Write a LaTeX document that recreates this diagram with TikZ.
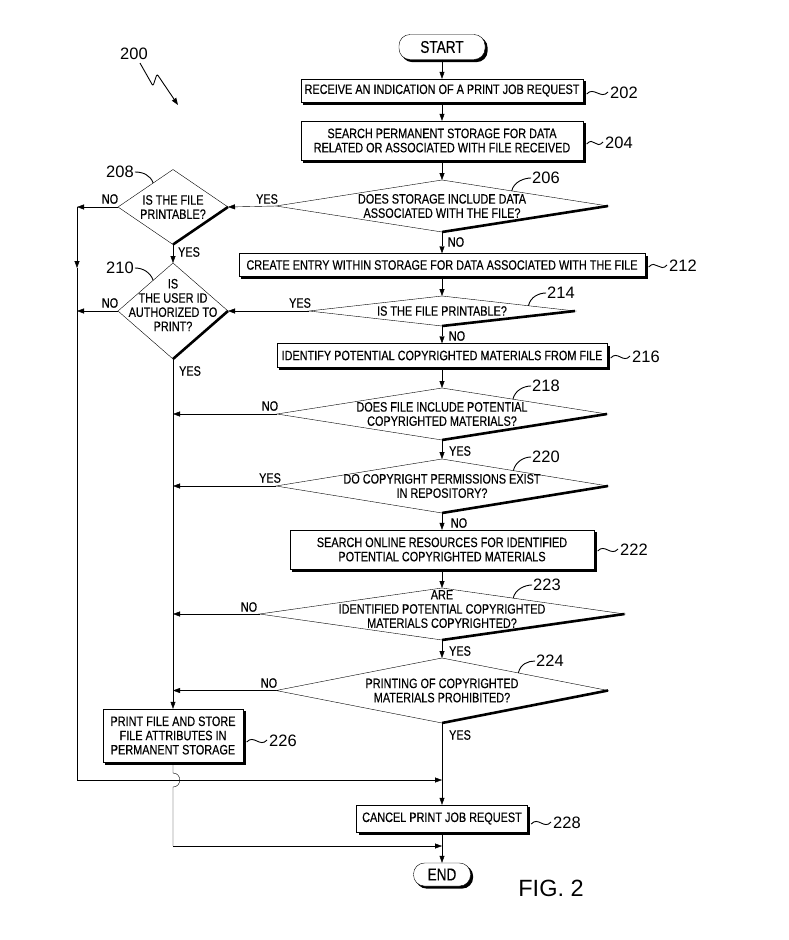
\documentclass[tikz,border=0pt]{standalone}
\usepackage{fontspec}
\usetikzlibrary{shapes.geometric,arrows.meta,calc}
\newfontfamily\bxfont[FakeStretch=0.8,FakeBold=0.3]{Liberation Sans}
\newfontfamily\lbfont{Liberation Sans}
\newcommand\bxtext{\bxfont\fontsize{13.6}{14.2}\selectfont}
\newcommand\tmtext{\bxfont\fontsize{17}{18}\selectfont}
\newcommand\lbtext{\lbfont\fontsize{16.5}{18}\selectfont}
\pgfdeclarelayer{bgwhite}
\pgfdeclarelayer{shadowlayer}
\pgfsetlayers{bgwhite,shadowlayer,main}
\begin{document}
\begin{tikzpicture}[x=1pt,y=-1pt,line width=1.05pt,
  proc/.style={draw, fill=white, font=\bxtext, align=center, inner sep=0pt},
  term/.style={proc, rounded corners=11pt, font=\tmtext},
  dia/.style={draw, diamond, fill=white, inner sep=0pt, outer sep=0pt},
  txt/.style={font=\bxtext, align=center, inner sep=0pt},
  num/.style={font=\lbtext, inner sep=1pt},
  yn/.style={font=\bxtext, inner sep=0pt},
  arr/.style={-{Triangle[length=7pt,width=5pt]}},
  lead/.style={line width=0.9pt},
  thick edge/.style={line width=2.6pt},
  shadowfill/.style={fill=black}]
\useasboundingbox (0,0) rectangle (788,940);
\begin{pgfonlayer}{bgwhite}
\fill[white] (0,0) rectangle (788,940);
\end{pgfonlayer}

% ---- main column
\node[term, minimum width=86pt, minimum height=25pt] (start) at (442,47) {START};
\node[proc, minimum width=282pt, minimum height=23pt] (b202) at (442,90.5) {RECEIVE AN INDICATION OF A PRINT JOB REQUEST};
\node[proc, minimum width=282pt, minimum height=39pt] (b204) at (442,140.5) {SEARCH PERMANENT STORAGE FOR DATA\\RELATED OR ASSOCIATED WITH FILE RECEIVED};
\node[dia, minimum width=332pt, minimum height=52pt] (d206) at (442,206) {};
\node[txt] (t206) at (442,206) {DOES STORAGE INCLUDE DATA\\ASSOCIATED WITH THE FILE?};
\node[proc, minimum width=406pt, minimum height=23pt] (b212) at (442,265) {CREATE ENTRY WITHIN STORAGE FOR DATA ASSOCIATED WITH THE FILE};
\node[dia, minimum width=266pt, minimum height=30pt] (d214) at (442,311) {};
\node[txt] (t214) at (442,311) {IS THE FILE PRINTABLE?};
\node[proc, minimum width=330pt, minimum height=24pt] (b216) at (442,355.5) {IDENTIFY POTENTIAL COPYRIGHTED MATERIALS FROM FILE};
\node[dia, minimum width=330pt, minimum height=52pt] (d218) at (442,414) {};
\node[txt] (t218) at (442,414) {DOES FILE INCLUDE POTENTIAL\\COPYRIGHTED MATERIALS?};
\node[dia, minimum width=332pt, minimum height=54pt] (d220) at (442,486) {};
\node[txt] (t220) at (442,486) {DO COPYRIGHT PERMISSIONS EXIST\\IN REPOSITORY?};
\node[proc, minimum width=304pt, minimum height=39pt] (b222) at (442,549.5) {SEARCH ONLINE RESOURCES FOR IDENTIFIED\\POTENTIAL COPYRIGHTED MATERIALS};
\node[dia, minimum width=365pt, minimum height=52pt] (d223) at (442,614) {};
\node[txt] (t223) at (442,609) {ARE\\IDENTIFIED POTENTIAL COPYRIGHTED\\MATERIALS COPYRIGHTED?};
\node[dia, minimum width=332pt, minimum height=65pt] (d224) at (442,690.5) {};
\node[txt] (t224) at (442,690.5) {PRINTING OF COPYRIGHTED\\MATERIALS PROHIBITED?};
\node[proc, minimum width=171pt, minimum height=27pt] (b228) at (442,818.5) {CANCEL PRINT JOB REQUEST};
\node[term, minimum width=57pt, minimum height=23pt] (end) at (442,874.5) {END};

% ---- left column
\node[dia, minimum width=110pt, minimum height=75pt] (d208) at (173,207) {};
\node[txt] (t208) at (173,207) {IS THE FILE\\PRINTABLE?};
\node[dia, minimum width=110pt, minimum height=96pt] (d210) at (173,311) {};
\node[txt] (t210) at (173,305) {IS\\THE USER ID\\AUTHORIZED TO\\PRINT?};
\node[proc, minimum width=140pt, minimum height=53pt] (b226) at (173,735.5) {PRINT FILE AND STORE\\FILE ATTRIBUTES IN\\PERMANENT STORAGE};

% ---- shadows of boxes
\begin{pgfonlayer}{shadowlayer}
\foreach \b in {b202,b204,b212,b216,b222,b226,b228}
  \fill[shadowfill] ($(\b.north west)+(2.4,2.4)$) rectangle ($(\b.south east)+(2.4,2.4)$);
\foreach \b in {start,end}
  \fill[shadowfill, rounded corners=11pt] ($(\b.north west)+(2.4,2.4)$) rectangle ($(\b.south east)+(2.4,2.4)$);
\end{pgfonlayer}

% thick lower-right edges of decisions
\foreach \d in {d206,d208,d210,d214,d218,d220,d223,d224}
  \draw[thick edge] (\d.east) -- (\d.south);

% ---- reference numbers
\node[num] (n200) at (134,54) {200};
\node[num] (n202) at (624,93) {202};
\node[num] (n204) at (619,143) {204};
\node[num] (n206) at (546,178) {206};
\node[num] (n208) at (120,172) {208};
\node[num] (n210) at (120,268) {210};
\node[num] (n212) at (683,266) {212};
\node[num] (n214) at (561,293) {214};
\node[num] (n216) at (646,357) {216};
\node[num] (n218) at (546,386) {218};
\node[num] (n220) at (546,457) {220};
\node[num] (n222) at (634,550) {222};
\node[num] (n223) at (547,585) {223};
\node[num] (n224) at (550,661) {224};
\node[num] (n226) at (283,741) {226};
\node[num] (n228) at (567,823) {228};
\node[font=\lbfont\fontsize{23.5}{26}\selectfont, inner sep=0pt] (fig) at (551,888) {FIG. 2};

% ---- yes / no labels
\node[yn] (y206) at (267,199) {YES};
\node[yn] (n206l) at (456,242) {NO};
\node[yn] (n208l) at (110,199) {NO};
\node[yn] (y208) at (189,252) {YES};
\node[yn] (n210l) at (110,303) {NO};
\node[yn] (y210) at (190,371) {YES};
\node[yn] (y214) at (300,303) {YES};
\node[yn] (n214l) at (457,336) {NO};
\node[yn] (n218l) at (270,406) {NO};
\node[yn] (y218) at (460,451) {YES};
\node[yn] (y220) at (270,478) {YES};
\node[yn] (n220l) at (459,523) {NO};
\node[yn] (n223l) at (249,607) {NO};
\node[yn] (y223) at (460,651) {YES};
\node[yn] (n224l) at (269,683) {NO};
\node[yn] (y224) at (460,735) {YES};

% ---- leaders for boxes (tilde)
\foreach \b/\n in {b202/n202,b204/n204,b212/n212,b216/n216,b222/n222,b226/n226,b228/n228}
  \draw[lead] ($(\b.east |- \n.west)+(3.5,1)$) .. controls +(7,-8) and +(-7,8) .. ($(\n.west)+(-1,-1)$);
% ---- leaders for decisions (right side)
\foreach \d/\n/\t in {d206/n206/0.42,d214/n214/0.65,d218/n218/0.43,d220/n220/0.43,d223/n223/0.39,d224/n224/0.46}
  \draw[lead] ($(\d.north)!\t!(\d.east)$) .. controls +(2,-9) and +(-7,0) .. (\n.west);
% ---- leaders for left decisions
\foreach \d/\n in {d208/n208,d210/n210}
  \draw[lead] (\n.east) .. controls +(8,0) and +(-3,-8) .. ($(\d.north)!0.36!(\d.west)$);
% ---- figure reference arrow
\coordinate (z200) at (178,105);
\draw[lead, arr, rounded corners=2pt] ($(n200.south)+(6,2)$) -- (153,86) -- (157,74) -- (z200);

% ---- main flow
\draw[arr] (start.south) -- (b202.north);
\draw[arr] (b202.south) -- (b204.north);
\draw[arr] (b204.south) -- (d206.north);
\draw[arr] (d206.south) -- (b212.north);
\draw[arr] (b212.south) -- (d214.north);
\draw[arr] (d214.south) -- (b216.north);
\draw[arr] (b216.south) -- (d218.north);
\draw[arr] (d218.south) -- (d220.north);
\draw[arr] (d220.south) -- (b222.north);
\draw[arr] (b222.south) -- (d223.north);
\draw[arr] (d223.south) -- (d224.north);
\draw[arr] (d224.south) -- (b228.north);
\draw[arr] (b228.south) -- (end.north);

% ---- left decisions
\draw[arr] (d206.west) -- (d208.east);
\draw[arr] (d208.south) -- (d210.north);
\draw[arr] (d214.west) -- (d210.east);

\coordinate (lt) at (77,207);
\coordinate (lm) at (77,268);
\coordinate (lt2) at (77,311);
\coordinate (lb) at (77,780);
\coordinate (mj) at (442,780);
\draw[arr] (d208.west) -- (lt);
\draw[arr] (lt) -- (lm);
\draw (lm) -- (lb);
\draw[arr] (lb) -- (mj);
\draw[arr] (d210.west) -- (lt2);

% ---- YES column of 210
\draw[arr] (d210.south) -- (b226.north);
\draw[arr] (d218.west) -- (d218.west -| d210.south);
\draw[arr] (d220.west) -- (d220.west -| d210.south);
\draw[arr] (d223.west) -- (d223.west -| d210.south);
\draw[arr] (d224.west) -- (d224.west -| d210.south);

\coordinate (hop1) at (173,773);
\coordinate (hop2) at (173,787);
\coordinate (bl) at (173,846);
\coordinate (br) at (442,846);
\draw (b226.south) -- (hop1) .. controls +(9,0) and +(9,0) .. (hop2) -- (bl);
\draw[arr] (bl) -- (br);
\end{tikzpicture}
\end{document}
